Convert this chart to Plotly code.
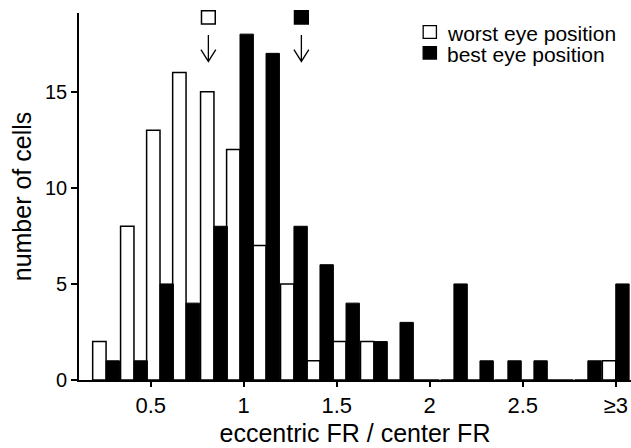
import plotly.graph_objects as go

# Histogram bins (centre of each bin on the FR-ratio axis; last bin is ">=3")
bin_centers = [0.26, 0.41, 0.55, 0.69, 0.84, 0.98, 1.12, 1.27, 1.41, 1.55,
               1.70, 1.84, 1.98, 2.13, 2.27, 2.42, 2.56, 2.70, 2.85, 3.00]
worst_counts = [2, 8, 13, 16, 15, 12, 7, 5, 1, 2, 2, 0, 0, 0, 0, 0, 0, 0, 0, 1]
best_counts = [1, 1, 5, 4, 8, 18, 17, 8, 6, 4, 2, 3, 0, 5, 1, 1, 1, 0, 1, 5]

# Population means marked above the histogram
worst_mean = 0.81
best_mean = 1.31

x_tickvals = [0.5, 1, 1.5, 2, 2.5, 3]
x_ticktext = ["0.5", "1", "1.5", "2", "2.5", "≥3"]
y_tickvals = [0, 5, 10, 15]

series_names = ["worst eye position", "best eye position"]

FONT = "Liberation Sans, Arial, Helvetica, sans-serif"
BAR_W = 0.072

fig = go.Figure()
fig.add_trace(go.Bar(
    x=bin_centers, y=worst_counts, width=BAR_W, offset=-BAR_W,
    marker=dict(color="white", line=dict(color="black", width=1.5)),
    name=series_names[0], showlegend=False,
))
fig.add_trace(go.Bar(
    x=bin_centers, y=best_counts, width=BAR_W, offset=0,
    marker=dict(color="black", line=dict(color="black", width=1)),
    name=series_names[1], showlegend=False,
))

shapes = []
# mean markers: square symbol with a down arrow beneath it
for mean, fill in [(worst_mean, "white"), (best_mean, "black")]:
    hs = 0.037
    shapes.append(dict(type="rect", xref="x", yref="paper",
                       x0=mean - hs, x1=mean + hs, y0=0.970, y1=1.006,
                       fillcolor=fill, line=dict(color="black", width=1.5)))
    hw = 0.040
    path = (f"M {mean},0.940 L {mean},0.868 "
            f"M {mean - hw},0.900 L {mean},0.868 L {mean + hw},0.900")
    shapes.append(dict(type="path", xref="x", yref="paper", path=path,
                       line=dict(color="black", width=1.3)))

# legend drawn as squares plus labels in the top-right corner
legend_rows = [(0.9654, 0.9311, "white", 0.944), (0.9082, 0.8747, "black", 0.887)]
annotations = []
for (y1, y0, fill, yc), label in zip(legend_rows, series_names):
    shapes.append(dict(type="rect", xref="paper", yref="paper",
                       x0=0.6235, x1=0.6475, y0=y0, y1=y1,
                       fillcolor=fill, line=dict(color="black", width=1.3)))
    annotations.append(dict(xref="paper", yref="paper", x=0.6625, y=yc,
                            xanchor="left", yanchor="middle", showarrow=False,
                            text=label, font=dict(family=FONT, size=21, color="black")))

fig.update_layout(
    width=631, height=448,
    margin=dict(l=79, r=0, t=13, b=68),
    paper_bgcolor="white", plot_bgcolor="white",
    barmode="overlay",
    shapes=shapes, annotations=annotations,
    font=dict(family=FONT, color="black"),
    xaxis=dict(
        range=[0.1145, 3.082], tickvals=x_tickvals, ticktext=x_ticktext,
        ticks="outside", ticklen=5, tickwidth=1.5, tickcolor="black",
        showline=True, linecolor="black", linewidth=1.6,
        showgrid=False, zeroline=False,
        tickfont=dict(family=FONT, size=22, color="black"),
        title=dict(text="eccentric FR / center FR", standoff=7,
                   font=dict(family=FONT, size=25, color="black")),
    ),
    yaxis=dict(
        range=[0, 19.1], tickvals=y_tickvals,
        ticks="outside", ticklen=6, tickwidth=1.5, tickcolor="black",
        showline=True, linecolor="black", linewidth=1.6,
        showgrid=False, zeroline=False,
        tickfont=dict(family=FONT, size=20, color="black"),
        title=dict(text="number of cells", standoff=6,
                   font=dict(family=FONT, size=25, color="black")),
    ),
)

fig.write_html("out.html")
